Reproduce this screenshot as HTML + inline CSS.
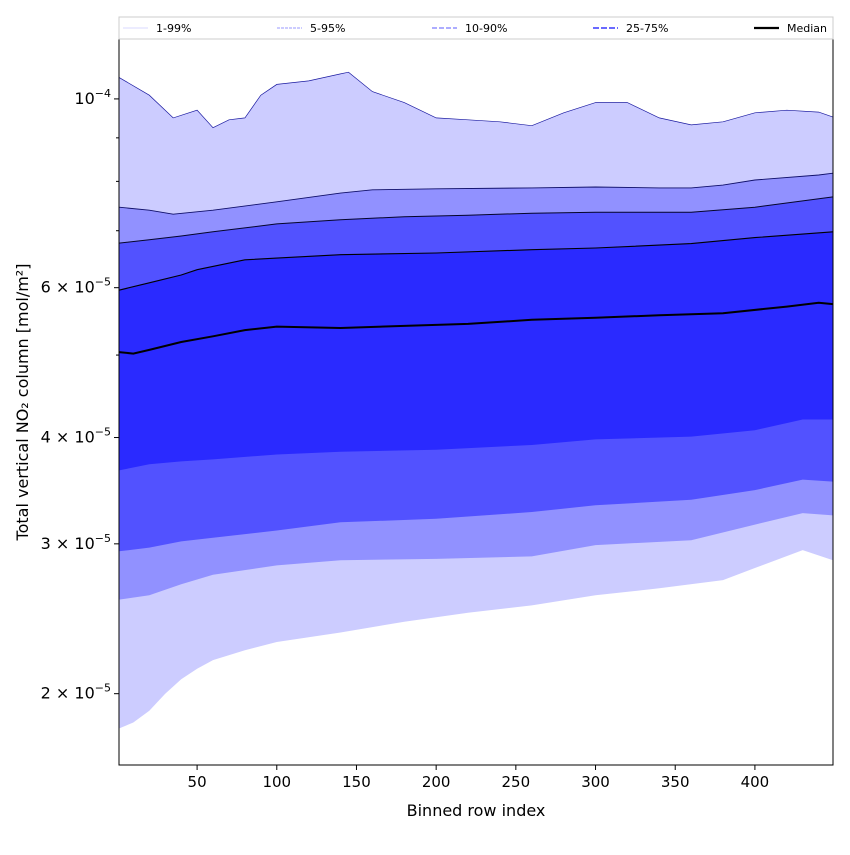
<!DOCTYPE html>
<html><head><meta charset="utf-8"><style>
body{margin:0;background:#fff;font-family:"Liberation Sans","DejaVu Sans",sans-serif}
</style></head><body>
<svg id="chart" width="850" height="850" xmlns="http://www.w3.org/2000/svg" style="font-family:'DejaVu Sans','Liberation Sans',sans-serif">
<g id="bands"></g>
<g id="axes"></g>
<g id="legend"></g>
</svg>
<script>
// values in units of 1e-5 mol/m²
const p99Idx=[1,20,35,50,60,70,80,90,100,120,140,145,160,180,200,220,240,260,280,300,320,340,360,380,400,420,440,449];
const p99Val=[10.6,10.1,9.5,9.7,9.25,9.45,9.5,10.1,10.4,10.5,10.7,10.75,10.2,9.9,9.5,9.45,9.4,9.3,9.63,9.9,9.9,9.5,9.32,9.4,9.63,9.7,9.65,9.52];
const p95Idx=[1,20,35,60,100,140,160,200,260,300,340,360,380,400,440,449];
const p95Val=[7.46,7.40,7.32,7.40,7.57,7.75,7.82,7.84,7.86,7.88,7.86,7.86,7.92,8.03,8.14,8.18];
const p90Idx=[1,20,40,60,100,140,180,220,260,300,360,400,449];
const p90Val=[6.77,6.83,6.90,6.98,7.13,7.21,7.27,7.30,7.34,7.36,7.36,7.46,7.67];
const p75Idx=[1,20,40,50,80,100,140,200,260,300,360,400,449];
const p75Val=[5.96,6.08,6.21,6.30,6.47,6.50,6.56,6.59,6.65,6.68,6.76,6.87,6.98];
const medIdx=[1,10,20,40,60,80,100,140,180,220,260,300,340,380,420,440,449];
const medVal=[5.04,5.02,5.07,5.18,5.26,5.35,5.40,5.38,5.41,5.44,5.50,5.53,5.57,5.60,5.70,5.76,5.74];
const p25Idx=[1,20,40,60,100,140,200,260,300,360,400,430,449];
const p25Val=[3.66,3.72,3.75,3.77,3.82,3.85,3.87,3.92,3.98,4.01,4.08,4.20,4.20];
const p10Idx=[1,20,40,60,100,140,200,260,300,360,400,430,449];
const p10Val=[2.94,2.97,3.02,3.05,3.11,3.18,3.21,3.27,3.33,3.38,3.47,3.57,3.55];
const p5Idx=[1,20,40,60,100,140,200,260,300,360,400,430,449];
const p5Val=[2.58,2.61,2.69,2.76,2.83,2.87,2.88,2.90,2.99,3.03,3.16,3.26,3.24];
const p1Idx=[1,10,20,30,40,50,60,80,100,140,180,220,260,300,340,380,400,430,449];
const p1Val=[1.82,1.85,1.91,2.00,2.08,2.14,2.19,2.25,2.30,2.36,2.43,2.49,2.54,2.61,2.66,2.72,2.81,2.95,2.87];
const xTicks=[50,100,150,200,250,300,350,400];
const yMajor=[2,3,4,6];
const yMinor=[5,7,8,9];

const L=119,R=833,T=39,B=765, X0=1,X1=449;
const LT=Math.log10(11.76), LB=Math.log10(1.649);
const NS="http://www.w3.org/2000/svg";
function x(i){return L+(i-X0)/(X1-X0)*(R-L);}
function y(v){return T+(LT-Math.log10(v))/(LT-LB)*(B-T);}
function mk(tag,attrs,parent){const e=document.createElementNS(NS,tag);for(const k in attrs)e.setAttribute(k,attrs[k]);parent.appendChild(e);return e;}
function pts(ix,vs){return ix.map((d,k)=>x(d).toFixed(1)+','+y(vs[k]).toFixed(1));}
const bands=document.getElementById('bands');
const defs=[["band-1-99",p99Idx,p99Val,p1Idx,p1Val,"#ccccff"],["band-5-95",p95Idx,p95Val,p5Idx,p5Val,"#9191ff"],["band-10-90",p90Idx,p90Val,p10Idx,p10Val,"#5252ff"],["band-25-75",p75Idx,p75Val,p25Idx,p25Val,"#2a2aff"]];
defs.forEach(d=>{
 const up=pts(d[1],d[2]), lo=pts(d[3],d[4]).reverse();
 const p=mk('polygon',{points:up.concat(lo).join(' '),fill:d[5]},bands);
 
 
});
[["line-p99",p99Idx,p99Val,"#1a1aa0",0.7],["line-p95",p95Idx,p95Val,"#10106a",0.9],["line-p90",p90Idx,p90Val,"#05052a",1],["line-p75",p75Idx,p75Val,"#000",1.1],["line-median",medIdx,medVal,"#000",2]].forEach(d=>{
 const p=mk('polyline',{points:pts(d[1],d[2]).join(' '),fill:'none',stroke:d[3],'stroke-width':d[4]},bands);
 
 
});
const ax=document.getElementById('axes');
const fr=mk('rect',{x:L,y:T,width:R-L,height:B-T,fill:'none',stroke:'#000','stroke-width':1},ax);


xTicks.forEach(t=>{
 mk('line',{x1:x(t),x2:x(t),y1:B,y2:B+5,stroke:'#000'},ax);
 const tx=mk('text',{x:x(t),y:B+22,'text-anchor':'middle','font-size':15},ax);tx.textContent=t;
 
 
});
function ylab(yy,html){const tx=mk('text',{x:L-8,y:yy+5,'text-anchor':'end','font-size':16},ax);tx.innerHTML=html;
 
 }
yMajor.forEach(v=>{mk('line',{x1:L-5,x2:L,y1:y(v),y2:y(v),stroke:'#000'},ax);ylab(y(v),v+' \u00d7 10<tspan dy="-7" font-size="11">\u22125</tspan>');});
mk('line',{x1:L-5,x2:L,y1:y(10),y2:y(10),stroke:'#000'},ax);ylab(y(10),'10<tspan dy="-7" font-size="11">\u22124</tspan>');
yMinor.forEach(v=>mk('line',{x1:L-3,x2:L,y1:y(v),y2:y(v),stroke:'#000'},ax));
const xt=mk('text',{x:476,y:816,'text-anchor':'middle','font-size':16},ax);xt.textContent='Binned row index';


const yt=mk('text',{x:28,y:402,'text-anchor':'middle','font-size':16,transform:'rotate(-90 28 402)'},ax);yt.textContent='Total vertical NO\u2082 column [mol/m\u00b2]';


const lg=document.getElementById('legend');
mk('rect',{x:119,y:17,width:714,height:22,fill:'#fff',stroke:'#ccc'},lg);
[["1-99%",123,"#d8d8ff",1,""],["5-95%",277,"#9a9aff",1,"3,1"],["10-90%",432,"#7c7cff",1.3,"5,2"],["25-75%",593,"#5555ff",1.8,"6,2"],["Median",754,"#000",2.2,""]].forEach(d=>{
 const g=mk('g',{},lg);
 
 
 const a={x1:d[1],x2:d[1]+25,y1:28,y2:28,stroke:d[2],'stroke-width':d[3]};if(d[4])a['stroke-dasharray']=d[4];
 mk('line',a,g);
 const t=mk('text',{x:d[1]+33,y:32,'font-size':11},g);t.textContent=d[0];
});
</script>
</body></html>
